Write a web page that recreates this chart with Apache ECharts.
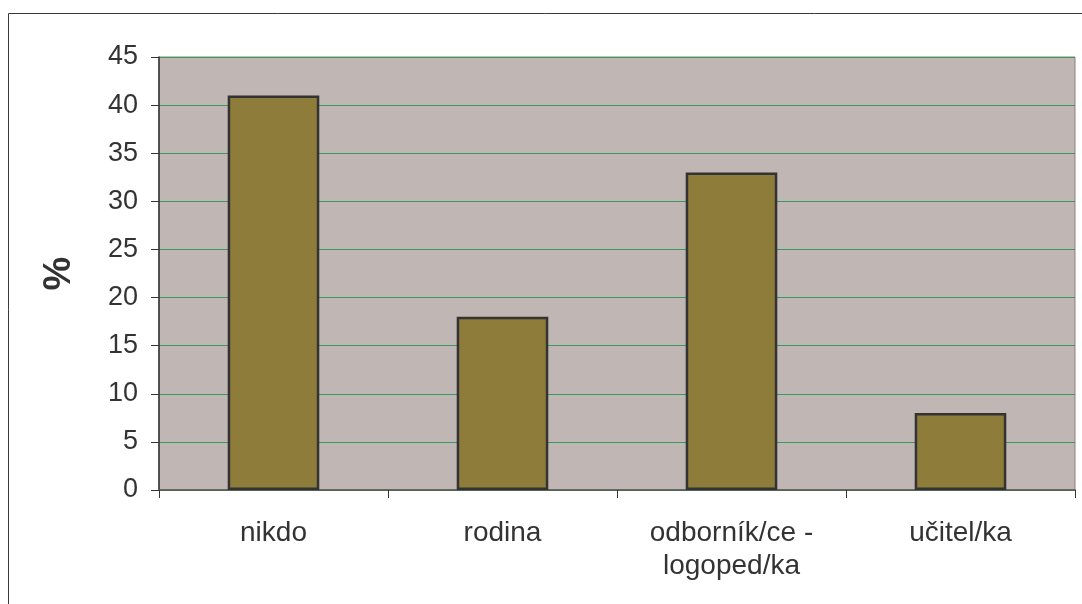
<!DOCTYPE html>
<html>
<head>
<meta charset="utf-8">
<script src="https://cdn.jsdelivr.net/npm/echarts@6/dist/echarts.min.js"></script>
<style>
  html, body { margin: 0; padding: 0; background: #ffffff; }
  #chart { width: 1082px; height: 604px; }
</style>
</head>
<body>
<div id="chart"></div>
<script>
// Who helps with speech problems – share of respondents (%)
const categories = ['nikdo', 'rodina', 'odborník/ce -\nlogoped/ka', 'učitel/ka'];
const percentValues = [41, 18, 33, 8];
const yTicks = { min: 0, max: 45, interval: 5 };

const chart = echarts.init(document.getElementById('chart'), null, { renderer: 'canvas' });

chart.setOption({
  animation: false,
  textStyle: { fontFamily: 'Liberation Sans, Arial, sans-serif' },
  graphic: [{
    type: 'rect',
    shape: { x: 8.5, y: 13.5, width: 1200, height: 800 },
    style: { fill: 'none', stroke: '#3a3a3a', lineWidth: 1 },
    silent: true,
    z: -1
  }],
  grid: {
    left: 159, right: 7, top: 57, bottom: 114,
    show: true,
    backgroundColor: '#c0b7b5',
    borderColor: '#8a807c',
    borderWidth: 1
  },
  xAxis: {
    type: 'category',
    data: categories,
    axisLine: { show: true, lineStyle: { color: '#5a5452', width: 1.5 } },
    axisTick: { show: true, alignWithLabel: false, length: 8, lineStyle: { color: '#333' } },
    axisLabel: { color: '#333333', fontSize: 28, margin: 27, lineHeight: 33, interval: 0 },
    splitLine: { show: false }
  },
  yAxis: {
    type: 'value',
    min: yTicks.min, max: yTicks.max, interval: yTicks.interval,
    name: '%',
    nameLocation: 'middle',
    nameRotate: 90,
    nameGap: 80,
    nameTextStyle: { color: '#333333', fontSize: 38, fontWeight: 'bold' },
    axisLine: { show: true, lineStyle: { color: '#333333', width: 1.5 } },
    axisTick: { show: true, inside: false, length: 8, lineStyle: { color: '#333' } },
    axisLabel: { color: '#333333', fontSize: 27, margin: 21 },
    splitLine: { show: true, lineStyle: { color: '#3a9a5c', width: 1 } }
  },
  series: [{
    type: 'bar',
    data: percentValues,
    barWidth: '40%',
    itemStyle: { color: '#8e7c3a', borderColor: '#333333', borderWidth: 2.5 }
  }]
});
</script>
</body>
</html>
